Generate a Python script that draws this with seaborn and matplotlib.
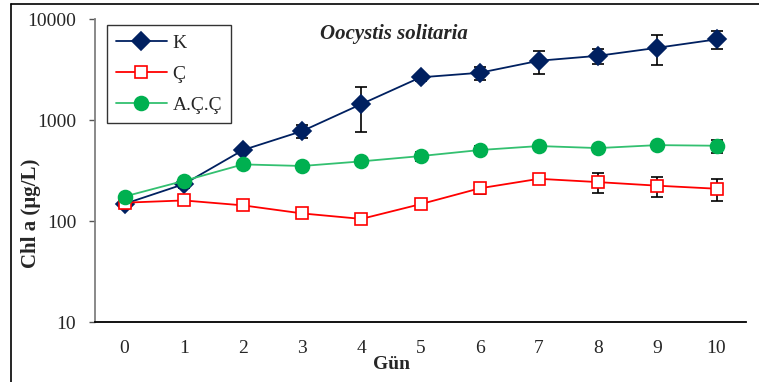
import numpy as np
import pandas as pd
import seaborn as sns
import matplotlib.pyplot as plt
from matplotlib.lines import Line2D
from matplotlib.ticker import FixedLocator, NullLocator, FixedFormatter

# Days and Chl a values (µg/L) with standard deviations
gun = list(range(11))
k_mean = [148, 232, 505, 778, 1440, 2650, 2940, 3870, 4330, 5200, 6300]
k_sd = [10, 20, 30, 113, 680, 200, 430, 1000, 740, 1700, 1270]
c_mean = [152, 160, 143, 119, 105, 147, 211, 262, 243, 224, 209]
c_sd = [8, 10, 9, 8, 7, 16, 24, 30, 55, 50, 51]
acc_mean = [175, 250, 364, 351, 390, 440, 505, 553, 528, 565, 557]
acc_sd = [10, 15, 30, 25, 30, 45, 48, 25, 20, 20, 80]

sns.set_style("ticks")
plt.rcParams['font.family'] = ['Liberation Serif', 'DejaVu Serif']

fig = plt.figure(figsize=(7.59, 3.82), dpi=100)
ax = fig.add_axes([0.1252, 0.157, 0.983 - 0.1252, 0.950 - 0.157])

series = [
    ("K", k_mean, k_sd, "#002060", "#002060", "D", 9, "#002060"),
    ("Ç", c_mean, c_sd, "#FF0000", "white", "s", 8.5, "#FF0000"),
    ("A.Ç.Ç", acc_mean, acc_sd, "#00B050", "#00B050", "o", 10, "#33C070"),
]

for name, mean, sd, mec, mfc, mk, ms, lc in series:
    ax.errorbar(gun, mean, yerr=sd, fmt="none", ecolor="black",
                elinewidth=1.2, capsize=4.5, capthick=1.2, zorder=2)
    sns.lineplot(x=gun, y=mean, ax=ax, color=lc, linewidth=1.3,
                 marker=mk, markersize=ms, markerfacecolor=mfc,
                 markeredgecolor=mec, markeredgewidth=1.2,
                 label=name, zorder=3)

ax.set_yscale("log")
ax.set_ylim(10, 10000)
ax.set_xlim(-0.5, 10.5)
ax.yaxis.set_major_locator(FixedLocator([10, 100, 1000, 10000]))
ax.yaxis.set_major_formatter(FixedFormatter(["10", "100", "1000", "10000"]))
ax.yaxis.set_minor_locator(NullLocator())
ax.set_xticks(gun)
ax.tick_params(axis="x", length=0, labelsize=14, pad=13)
ax.tick_params(axis="y", length=4.5, width=1, labelsize=14, pad=9, color="#555555")

for s in ["top", "right"]:
    ax.spines[s].set_visible(False)
ax.spines["left"].set_color("#808080")
ax.spines["left"].set_linewidth(1.3)
ax.spines["bottom"].set_color("black")
ax.spines["bottom"].set_linewidth(1.3)

ax.set_xlabel("Gün", fontsize=14, fontweight="bold")
ax.xaxis.set_label_coords(0.455, -0.112)
ax.set_ylabel("Chl a (µg/L)", fontsize=15, fontweight="bold")
ax.yaxis.set_label_coords(-0.083, 0.36)
ax.text(0.459, 0.985, "Oocystis solitaria", transform=ax.transAxes,
        ha="center", va="top", fontsize=15, fontweight="bold", style="italic")

leg = ax.legend(loc="upper left", bbox_to_anchor=(0.019, 0.980), fontsize=14,
                frameon=True, fancybox=False, borderpad=0.45, labelspacing=0.7,
                handlelength=2.6, handletextpad=0.3, borderaxespad=0)
leg.get_frame().set_edgecolor("black")
leg.get_frame().set_linewidth(1.0)

# outer figure border (left and top edges visible)
fig.add_artist(Line2D([11 / 759, 11 / 759], [0, 1 - 4 / 382], color="black", lw=1.2))
fig.add_artist(Line2D([11 / 759, 1], [1 - 4 / 382, 1 - 4 / 382], color="black", lw=1.2))

fig.savefig("out.png", dpi=100)
